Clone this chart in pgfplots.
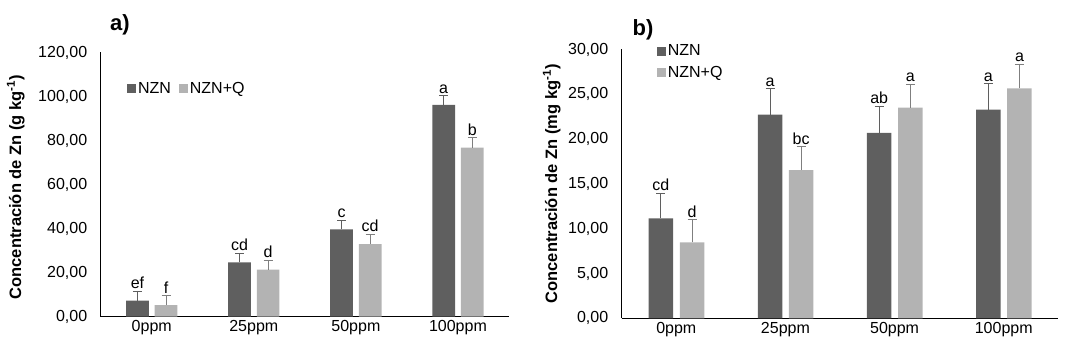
\documentclass[border=0pt]{standalone}
\usepackage{pgfplots}
\usepackage{pgfplotstable}
\pgfplotsset{compat=1.18}
\usepackage{fontspec}
\setmainfont{Liberation Sans}
\definecolor{dk}{HTML}{5F5F5F}
\definecolor{lt}{HTML}{B3B3B3}
\definecolor{eq}{HTML}{7F7F7F}
\pgfplotstableread{
xn xq n ne q qe ln lq
-0.140 0.140 7.3 4.4 5.3 4.4 ef f
0.860 1.140 24.7 4.1 21.4 4.3 cd d
1.860 2.140 39.7 4.2 33.0 4.4 c cd
2.860 3.140 96.2 4.1 76.8 4.6 a b
}\dataA
\pgfplotstableread{
xn xq n ne q qe ln lq
-0.141 0.144 11.15 2.8 8.47 2.57 cd d
0.859 1.144 22.74 2.9 16.53 2.6 a bc
1.859 2.144 20.69 2.98 23.52 2.6 ab a
2.859 3.144 23.3 2.9 25.67 2.68 a a
}\dataB
\newcommand{\fs}{\fontsize{16}{19}\selectfont}
\pgfplotsset{
  myax/.style={
    scale only axis,
    clip=false,
    axis x line=bottom, axis y line=left,
    axis line style={-, black, line width=0.8pt},
    xmin=-0.5, xmax=3.5,
    xtick={0,1,2,3}, xticklabels={0ppm,25ppm,50ppm,100ppm},
    major tick length=0pt,
    tick label style={font=\fs},
    /pgf/number format/assume math mode=true,
    yticklabel style={xshift=-10pt, /pgf/number format/.cd, fixed, fixed zerofill, precision=2, use comma, 1000 sep={}},
    ymin=0,
    ylabel style={font=\fontsize{16.5}{19}\selectfont\bfseries, anchor=center},
    legend style={draw=none, fill=none, font=\fs, inner sep=0pt},
    legend cell align=left,
    legend image code/.code={\fill[#1] (0pt,-4.5pt) rectangle (9pt,4.5pt);},
    nodes near coords style={font=\fs, text=black, anchor=south, inner sep=2pt},
  },
  barN/.style={ybar, bar width=#1, bar shift=0pt, fill=dk, draw=none,
    error bars/y dir=plus, error bars/y explicit,
    error bars/error bar style={draw=dk, line width=0.8pt},
    error bars/error mark=-,
    error bars/error mark options={rotate=90, draw=dk, mark size=4.5pt, line width=0.8pt}},
  barQ/.style={ybar, bar width=#1, bar shift=0pt, fill=lt, draw=none,
    error bars/y dir=plus, error bars/y explicit,
    error bars/error bar style={draw=eq, line width=0.8pt},
    error bars/error mark=-,
    error bars/error mark options={rotate=90, draw=eq, mark size=4.5pt, line width=0.8pt}},
  labp/.style={ybar, bar width=20pt, bar shift=0pt, draw=none, fill=none, forget plot,
    nodes near coords, point meta=explicit symbolic},
}
\begin{document}
\begin{tikzpicture}
\useasboundingbox (0pt,0pt) rectangle (1075pt,358pt);
% panel a
\begin{axis}[myax,
  at={(100.7pt,41.3pt)}, anchor=south west,
  width=408.3pt, height=264.2pt,
  ymax=120, ytick={0,20,...,120},
  ylabel={Concentración de Zn (g kg\textsuperscript{-1})},
  ylabel style={at={(axis description cs:-0.208,0.49)}},
  legend style={at={(axis description cs:0.064,0.8645)}, anchor=west, legend columns=2,
    /tikz/every even column/.append style={column sep=6pt}},
]
\addplot[barN=22.7pt] table[x=xn, y=n, y error=ne] {\dataA};
\addplot[barQ=22.7pt] table[x=xq, y=q, y error=qe] {\dataA};
\addplot[labp] table[x=xn, y expr=\thisrow{n}+\thisrow{ne}, meta=ln] {\dataA};
\addplot[labp] table[x=xq, y expr=\thisrow{q}+\thisrow{qe}, meta=lq] {\dataA};
\legend{NZN, NZN+Q}
\end{axis}
\node[font=\fontsize{22}{24}\selectfont\bfseries] at (120pt,333pt) {a)};
% panel b
\begin{axis}[myax,
  at={(621.7pt,39.7pt)}, anchor=south west,
  width=436.6pt, height=268.8pt,
  ymax=30, ytick={0,5,...,30},
  ylabel={Concentración de Zn (mg kg\textsuperscript{-1})},
  ylabel style={at={(axis description cs:-0.160,0.5)}},
  legend style={at={(axis description cs:0.080,0.9535)}, anchor=west, legend columns=1,
    row sep=5pt},
]
\addplot[barN=24.5pt] table[x=xn, y=n, y error=ne] {\dataB};
\addplot[barQ=24.5pt] table[x=xq, y=q, y error=qe] {\dataB};
\addplot[labp] table[x=xn, y expr=\thisrow{n}+\thisrow{ne}, meta=ln] {\dataB};
\addplot[labp] table[x=xq, y expr=\thisrow{q}+\thisrow{qe}, meta=lq] {\dataB};
\legend{NZN, NZN+Q}
\end{axis}
\node[font=\fontsize{22}{24}\selectfont\bfseries] at (643pt,328.5pt) {b)};
\end{tikzpicture}
\end{document}
